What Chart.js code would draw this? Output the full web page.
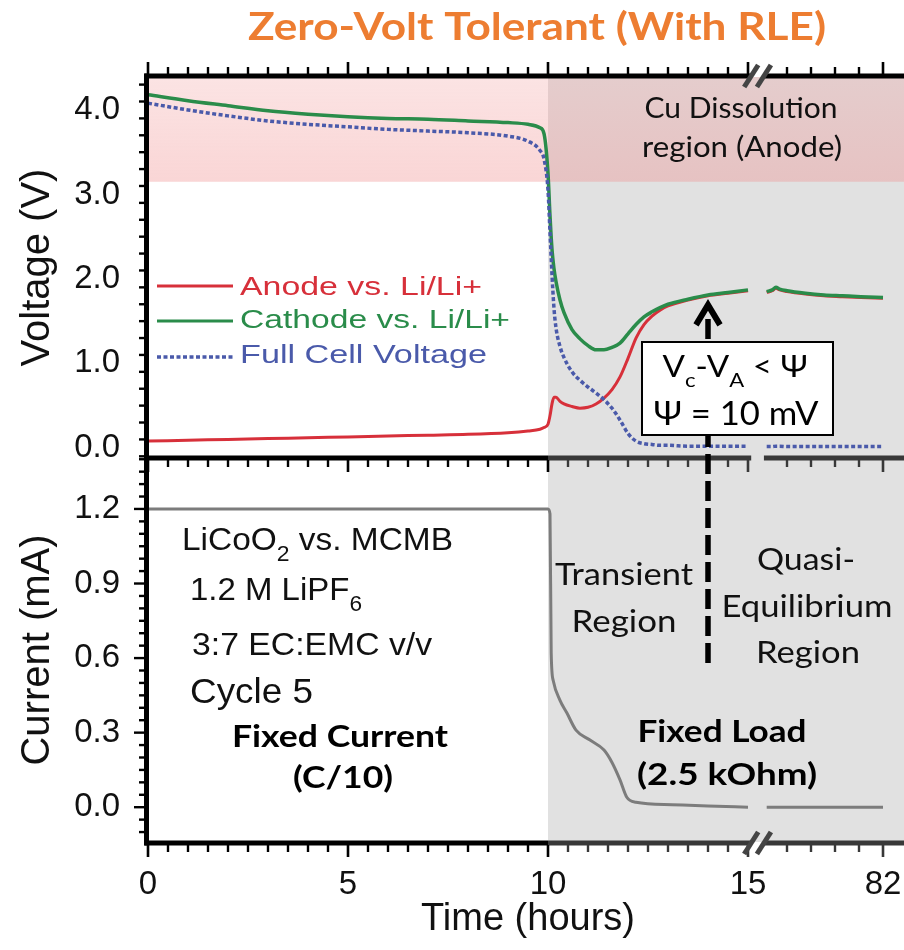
<!DOCTYPE html>
<html><head><meta charset="utf-8">
<script src="https://cdn.jsdelivr.net/npm/chart.js@4.4.1/dist/chart.umd.min.js"></script>
<style>
html,body{margin:0;padding:0;background:#fff;overflow:hidden;width:904px;height:950px;}
canvas{display:block;}
</style></head><body>
<canvas id="c" width="920" height="950"></canvas>
<script>
// ---------------- data ----------------
const TITLE = 'Zero-Volt Tolerant (With RLE)';

// voltage traces, before the axis break (hours)
const timeV    = [0,1,2,3,4,5,6,7,8,9,9.5,9.8,9.9,10,10.05,10.1,10.15,10.2,10.3,10.4,10.6,10.8,11,11.2,11.4,11.6,11.8,12,12.2,12.4,12.6,12.8,13,13.5,14,14.5,15];
const anodeV   = [0.08,0.09,0.10,0.11,0.12,0.13,0.14,0.15,0.16,0.18,0.20,0.22,0.24,0.28,0.38,0.52,0.60,0.60,0.55,0.52,0.49,0.47,0.48,0.52,0.59,0.69,0.84,1.06,1.30,1.46,1.56,1.63,1.68,1.75,1.80,1.83,1.86];
const cathodeV = [4.18,4.11,4.05,3.99,3.95,3.92,3.90,3.89,3.87,3.85,3.83,3.79,3.72,3.25,2.75,2.35,2.12,1.97,1.75,1.60,1.40,1.29,1.21,1.16,1.16,1.19,1.24,1.35,1.46,1.55,1.61,1.66,1.70,1.76,1.81,1.84,1.87];
const cellV    = [4.08,4.00,3.93,3.87,3.83,3.80,3.77,3.75,3.73,3.69,3.63,3.52,3.42,3.05,2.55,2.05,1.65,1.42,1.20,1.07,0.90,0.80,0.72,0.65,0.57,0.47,0.33,0.17,0.08,0.05,0.04,0.03,0.03,0.02,0.02,0.02,0.02];
// voltage traces, after the axis break
const timeVPost    = [19,22,24,26,30,40,50,60,70,82];
const anodeVPost   = [1.84,1.86,1.89,1.87,1.85,1.82,1.80,1.79,1.78,1.77];
const cathodeVPost = [1.85,1.87,1.90,1.88,1.86,1.83,1.81,1.80,1.79,1.78];
const cellVPost    = [0.015,0.015,0.02,0.02,0.015,0.015,0.015,0.015,0.015,0.015];
// current trace (mA)
const timeI     = [0,5,10,10.05,10.08,10.13,10.3,10.47,10.7,11.05,11.4,11.6,11.8,11.97,12.2,13.1,14,15];
const currentI  = [1.2,1.2,1.2,1.18,0.62,0.51,0.43,0.38,0.31,0.27,0.23,0.18,0.11,0.04,0.02,0.01,0.005,0.0];
const timeIPost = [19,30,50,82];
const currentIPost = [0,0,0,0];

// ticks
const xTickValues  = [0,5,10,15,82];
const xMinorPost   = [30,43,56,69];
const voltTicks    = [0,1,2,3,4];
const currentTicks = [0,0.3,0.6,0.9,1.2];

// reference levels
const FIXED_LOAD_START = 10;     // hours
const CU_DISSOLUTION_V = 3.15;   // V
const EQUILIBRIUM_T = 14;        // hours

// ---------------- broken time axis ----------------
const BREAK_START = 15.3, BREAK_END = 17, POST_U0 = 15.375, POST_SCALE = 3 / 65, U_MAX = 19;
const BREAK_MARKS = [15.08, 17.5];
function toU(t) {
  if (t <= BREAK_START) return t;
  if (t >= BREAK_END) return POST_U0 + (t - BREAK_END) * POST_SCALE;
  return BREAK_START + (t - BREAK_START) / (BREAK_END - BREAK_START) * (POST_U0 - BREAK_START);
}
function fromU(u) {
  if (u <= BREAK_START) return u;
  if (u >= POST_U0) return BREAK_END + (u - POST_U0) / POST_SCALE;
  return BREAK_START + (u - BREAK_START) / (POST_U0 - BREAK_START) * (BREAK_END - BREAK_START);
}
class BrokenTimeScale extends Chart.LinearScale {
  static id = 'brokenTime';
  static defaults = {};
  determineDataLimits() { this.min = 0; this.max = U_MAX; }
  buildTicks() { return xTickValues.map(v => ({value: v})); }
  getPixelForValue(v) { return (v === null || v === undefined || isNaN(v)) ? NaN : super.getPixelForValue(toU(v)); }
  getValueForPixel(p) { return fromU(super.getValueForPixel(p)); }
}
Chart.register(BrokenTimeScale);

// ---------------- styling ----------------
const ARIAL = '"Liberation Sans", Arial, sans-serif';
const CAL = 'Lato, "Open Sans", sans-serif';
const RED = '#D7303A', GREEN = '#2A8C4A', BLUE = '#4A5AAA', GRAYLINE = '#7C7C7C';

function series(t, v, tp, vp) {
  return [...t.map((x, i) => ({x, y: v[i]})), {x: 16, y: null}, ...tp.map((x, i) => ({x, y: vp[i]}))];
}

function fitText(ctx, parts, x, y, size, family, weight, color, align, targetW) {
  if (typeof parts === 'string') parts = [[parts, false]];
  ctx.save();
  const fMain = `${weight} ${size}px ${family}`;
  const fSub = `${weight} ${Math.round(size * 0.68)}px ${family}`;
  let w = 0;
  for (const [t, sub] of parts) { ctx.font = sub ? fSub : fMain; w += ctx.measureText(t).width; }
  const sx = targetW ? targetW / w : 1;
  const x0 = align === 'center' ? x - w * sx / 2 : x;
  ctx.translate(x0, y); ctx.scale(sx, 1);
  ctx.fillStyle = color; ctx.textBaseline = 'alphabetic'; ctx.textAlign = 'left';
  let cx = 0;
  for (const [t, sub] of parts) {
    ctx.font = sub ? fSub : fMain;
    ctx.fillText(t, cx, sub ? size * 0.33 : 0);
    cx += ctx.measureText(t).width;
  }
  ctx.restore();
}

const decor = {
  id: 'decor',
  beforeDatasetsDraw(chart) {
    const {ctx, chartArea: a, scales: {x, yV}} = chart;
    const xg = x.getPixelForValue(FIXED_LOAD_START);
    ctx.save();
    ctx.fillStyle = '#E1E1E1';
    ctx.fillRect(xg, a.top, a.right - xg, a.bottom - a.top);
    const yp = yV.getPixelForValue(CU_DISSOLUTION_V);
    const g = ctx.createLinearGradient(0, a.top, 0, yp);
    g.addColorStop(0, 'rgba(240,140,140,0.24)');
    g.addColorStop(1, 'rgba(240,140,140,0.36)');
    ctx.fillStyle = g;
    ctx.fillRect(a.left, a.top, a.right - a.left, yp - a.top);
    ctx.restore();
  },
  afterDatasetsDraw(chart) {
    const {ctx, chartArea: a, scales: {x, yV, yI}} = chart;
    const xg = x.getPixelForValue(FIXED_LOAD_START);
    const xb1 = x.getPixelForValue(BREAK_MARKS[0]), xb2 = x.getPixelForValue(BREAK_MARKS[1]);
    const yMid = yV.bottom;
    ctx.save();
    ctx.lineCap = 'butt';
    const seg = (x0, x1, y0, y1, w, c) => { ctx.beginPath(); ctx.strokeStyle = c; ctx.lineWidth = w; ctx.moveTo(x0, y0); ctx.lineTo(x1, y1); ctx.stroke(); };
    const majors = xTickValues;
    const minors = [];
    for (let t = 0.5; t < 15.2; t += 0.5) if (!majors.includes(t)) minors.push(t);
    minors.push(...xMinorPost);
    const axes = [
      {y: a.top - 1, dir: -1, grayRight: false},
      {y: yMid, dir: 1, grayRight: true},
      {y: a.bottom + 1, dir: 1, grayRight: true}
    ];
    for (const ax of axes) {
      const colAt = px => (ax.grayRight && px > xg) ? '#383838' : '#000';
      for (const [s0, s1] of [[a.left - 3.5, xb1], [xb2, a.right]]) {
        if (ax.grayRight && s0 < xg && s1 > xg) {
          seg(s0, xg, ax.y, ax.y, 5, '#000'); seg(xg, s1, ax.y, ax.y, 5, '#383838');
        } else seg(s0, s1, ax.y, ax.y, 5, colAt(s0 + 1));
      }
      for (const t of majors) { const px = x.getPixelForValue(t); seg(px, px, ax.y + ax.dir * 2, ax.y + ax.dir * 14, 2.6, colAt(px)); }
      for (const t of minors) { const px = x.getPixelForValue(t); seg(px, px, ax.y + ax.dir * 2, ax.y + ax.dir * 9, 2.4, colAt(px)); }
    }
    // left axis
    seg(a.left - 1.5, a.left - 1.5, a.top - 3.5, a.bottom + 3.5, 5, '#000');
    for (let v = -0.1; v <= 4.39; v += 0.2) {
      const vv = Math.round(v * 10) / 10; if (vv < -0.12) continue;
      const isMaj = voltTicks.includes(vv);
      const py = yV.getPixelForValue(vv);
      seg(a.left - 3, a.left - (isMaj ? 14 : 9), py, py, 2.4, '#000');
    }
    for (let k = -2; k <= 28; k++) {
      const vv = Math.round(k * 5) / 100;
      const isMaj = currentTicks.some(c => Math.abs(c - vv) < 1e-9);
      const py = yI.getPixelForValue(vv);
      if (py < yMid + 1) continue;
      seg(a.left - 3, a.left - (isMaj ? 14 : 9), py, py, 2.4, '#000');
    }
    // break marks
    for (const yy of [a.top - 1, a.bottom + 1]) {
      for (const xb of [xb1, xb2]) seg(xb - 7, xb + 7, yy + 11, yy - 11, 5, '#444');
    }
    // dashed arrow
    const xa = x.getPixelForValue(EQUILIBRIUM_T);
    const yTail = yI.getPixelForValue(0.58), yHead = yV.getPixelForValue(1.74);
    ctx.setLineDash([20, 7]);
    seg(xa, xa, yTail, yHead + 14, 5.5, '#000');
    ctx.setLineDash([]);
    ctx.beginPath(); ctx.lineWidth = 6; ctx.strokeStyle = '#000'; ctx.lineJoin = 'miter';
    ctx.moveTo(xa - 12, yHead + 24); ctx.lineTo(xa, yHead + 4); ctx.lineTo(xa + 12, yHead + 24); ctx.stroke();
    // criterion box
    ctx.fillStyle = '#fff'; ctx.fillRect(642, 342, 191, 93);
    ctx.lineWidth = 2; ctx.strokeStyle = '#000'; ctx.strokeRect(642, 342, 191, 93);
    ctx.restore();

    // annotation text
    fitText(ctx, [['V', false], ['c', true], ['-V', false], ['A', true], [' < \u03A8', false]], 735, 377, 30, CAL, 'normal', '#000', 'center', 145);
    fitText(ctx, '\u03A8 = 10 mV', 736, 425, 32, CAL, 'normal', '#000', 'center', 165);
    fitText(ctx, 'Cu Dissolution', 741, 118, 28, CAL, 'normal', '#111', 'center', 193);
    fitText(ctx, 'region (Anode)', 742, 157, 28, CAL, 'normal', '#111', 'center', 200);
    fitText(ctx, 'Transient', 624, 585, 30, CAL, 'normal', '#111', 'center', 138);
    fitText(ctx, 'Region', 624, 632, 30, CAL, 'normal', '#111', 'center', 105);
    fitText(ctx, 'Quasi-', 806, 570, 30, CAL, 'normal', '#111', 'center', 98);
    fitText(ctx, 'Equilibrium', 807, 617, 30, CAL, 'normal', '#111', 'center', 171);
    fitText(ctx, 'Region', 808, 663, 30, CAL, 'normal', '#111', 'center', 104);
    fitText(ctx, 'Fixed Load', 722, 742, 30, CAL, 'bold', '#000', 'center', 169);
    fitText(ctx, '(2.5 kOhm)', 727, 785, 30, CAL, 'bold', '#000', 'center', 180);
    fitText(ctx, 'Fixed Current', 340, 747, 30, CAL, 'bold', '#000', 'center', 216);
    fitText(ctx, '(C/10)', 343, 788, 30, CAL, 'bold', '#000', 'center', 100);
    fitText(ctx, [['LiCoO', false], ['2', true], [' vs. MCMB', false]], 182, 550, 32, ARIAL, 'normal', '#111', 'left', 271);
    fitText(ctx, [['1.2 M LiPF', false], ['6', true]], 190, 600, 32, ARIAL, 'normal', '#111', 'left', 172);
    fitText(ctx, '3:7 EC:EMC v/v', 192, 655, 32, ARIAL, 'normal', '#111', 'left', 240);
    fitText(ctx, 'Cycle 5', 190, 703, 35, ARIAL, 'normal', '#111', 'left', 123);
    // title
    fitText(ctx, TITLE, 537, 40, 38, CAL, 'bold', '#ED7D31', 'center', 578);

    // legend
    const legendRows = [{ds: 0, y: 286, base: 295, w: 242}, {ds: 1, y: 321, base: 328, w: 270}, {ds: 2, y: 357, base: 363, w: 247}];
    for (const r of legendRows) {
      const d = chart.data.datasets[r.ds];
      ctx.save();
      ctx.strokeStyle = d.borderColor; ctx.lineWidth = d.borderDash ? 3.5 : 3;
      ctx.setLineDash(d.borderDash || []);
      ctx.beginPath(); ctx.moveTo(157, r.y); ctx.lineTo(233, r.y); ctx.stroke();
      ctx.restore();
      fitText(ctx, d.label, 240, r.base, 26.5, ARIAL, 'normal', d.borderColor, 'left', r.w);
    }
  }
};

const tickFont = {family: ARIAL, size: 33};
new Chart(document.getElementById('c'), {
  type: 'line',
  data: {
    datasets: [
      {label: 'Anode vs. Li/Li+', data: series(timeV, anodeV, timeVPost, anodeVPost), yAxisID: 'yV', borderColor: RED, borderWidth: 3, order: 3},
      {label: 'Cathode vs. Li/Li+', data: series(timeV, cathodeV, timeVPost, cathodeVPost), yAxisID: 'yV', borderColor: GREEN, borderWidth: 3.5, order: 2},
      {label: 'Full Cell Voltage', data: series(timeV, cellV, timeVPost, cellVPost), yAxisID: 'yV', borderColor: BLUE, borderWidth: 3.5, borderDash: [4, 2.5], order: 1},
      {label: 'Current', data: series(timeI, currentI, timeIPost, currentIPost), yAxisID: 'yI', borderColor: GRAYLINE, borderWidth: 3, order: 4}
    ]
  },
  options: {
    responsive: false, animation: false, events: [],
    devicePixelRatio: 1,
    layout: {padding: {left: 0, top: 77, right: 12, bottom: 0}},
    elements: {point: {radius: 0}, line: {cubicInterpolationMode: 'monotone', borderCapStyle: 'butt', fill: false}},
    spanGaps: false,
    plugins: {legend: {display: false}, tooltip: {enabled: false}, title: {display: false}},
    scales: {
      x: {
        type: 'brokenTime', position: 'bottom',
        grid: {display: false}, border: {display: false},
        ticks: {font: tickFont, color: '#111', padding: 15, maxRotation: 0, autoSkip: false, callback: v => String(v)},
        title: {display: true, text: 'Time (hours)', font: {family: ARIAL, size: 38}, color: '#111', padding: {top: 0, bottom: 8}},
        afterFit: s => { s.height = 108; }
      },
      yI: {
        type: 'linear', position: 'left', stack: 'panels', stackWeight: 384,
        min: -0.14, max: 1.405,
        grid: {display: false}, border: {display: false},
        afterBuildTicks: s => { s.ticks = currentTicks.map(v => ({value: v})); },
        ticks: {font: tickFont, color: '#111', padding: 20, callback: v => Number(v).toFixed(1)},
        title: {display: true, text: 'Current (mA)', font: {family: ARIAL, size: 40}, color: '#111', padding: {top: 14, bottom: 0}},
        afterFit: s => { s.width = 148; }
      },
      yV: {
        type: 'linear', position: 'left', stack: 'panels', stackWeight: 381,
        min: -0.12, max: 4.39,
        grid: {display: false}, border: {display: false},
        afterBuildTicks: s => { s.ticks = voltTicks.map(v => ({value: v})); },
        ticks: {font: tickFont, color: '#111', padding: 20, callback: v => Number(v).toFixed(1)},
        title: {display: true, text: 'Voltage (V)', font: {family: ARIAL, size: 40}, color: '#111', padding: {top: 14, bottom: 0}},
        afterFit: s => { s.width = 148; }
      }
    }
  },
  plugins: [decor]
});
</script>
</body></html>
